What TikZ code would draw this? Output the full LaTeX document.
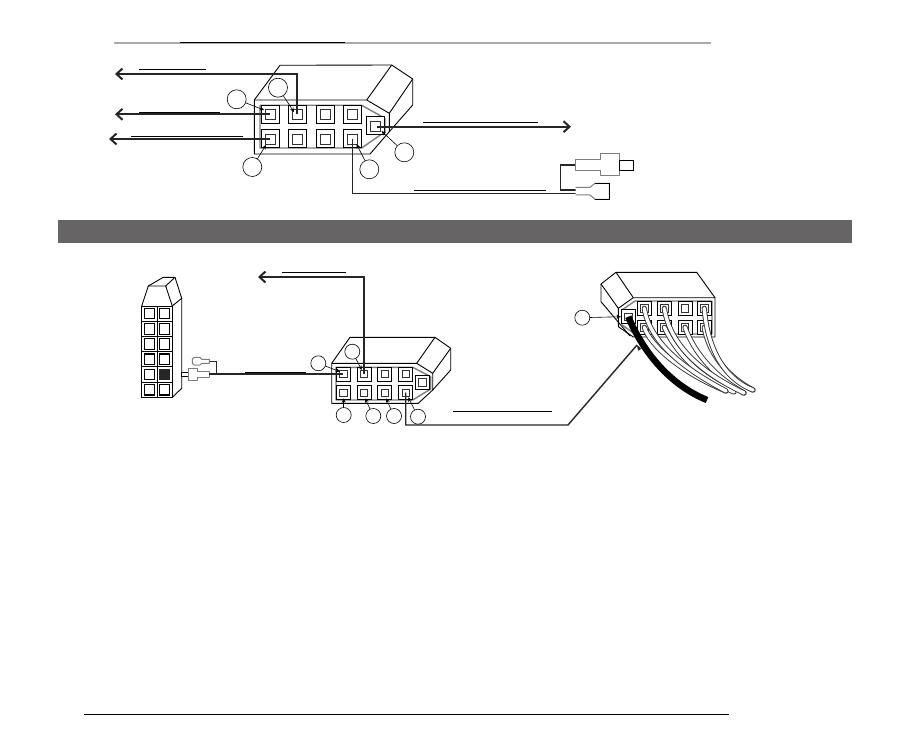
\documentclass[tikz,border=0pt]{standalone}
\usetikzlibrary{arrows.meta, positioning}
\definecolor{band}{RGB}{102,100,100}
\definecolor{rulegray}{RGB}{170,170,170}
\definecolor{pingray}{RGB}{125,125,125}
\tikzset{
  pinbig/.style={draw=black, line width=1pt, fill=white, minimum size=18pt, inner sep=0pt},
  pinsmall/.style={draw=black, line width=0.9pt, fill=white, minimum size=14pt, inner sep=0pt},
  coresmall/.style={draw=black!80, line width=0.8pt, fill=white, minimum size=7.5pt, inner sep=0pt},
  shell/.style={draw=black, line width=0.9pt, line join=round},
  frame/.style={draw=pingray, line width=1.4pt, line join=round},
  callout/.style={circle, draw=black, line width=0.6pt, fill=white, inner sep=0pt},
  calloutbig/.style={callout, minimum size=19pt},
  calloutmid/.style={callout, minimum size=15pt},
  leader/.style={draw=black, line width=0.6pt, -{Stealth[length=4.5pt,width=4pt]}},
  wire/.style={draw=black!85, line width=1.7pt},
  wirearrow/.style={wire, -{Straight Barb[length=6pt,width=11pt,line width=2pt]}},
  textbar/.style={draw=black, line width=0.9pt},
  cable/.style={line width=0.9pt, draw=black!80, double=white, double distance=3.4pt, line cap=round},
  plug/.style={draw=pingray, line width=1pt, fill=white, line join=round},
}
\begin{document}
\begin{tikzpicture}[x=1pt, y=-1pt]
  \path[use as bounding box, fill=white] (0,0) rectangle (907,754);

  % rules and band
  \draw[rulegray, line width=1.4pt] (114,43) -- (711,43);
  \draw[black, line width=1pt] (180,43) -- (345,43);
  \fill[band] (58,220) rectangle (852,243);
  \draw[black, line width=0.9pt] (84,714) -- (729,714);

  % upper connector
  \draw[shell] (254.3,100) -- (254.3,154) -- (370,154) -- (389.3,131.7) -- (389.3,113.3) -- (366.7,100) -- cycle;
  \draw[shell] (254.3,100) -- (280,65.3) -- (391.7,65) -- (412.7,79) -- (412.7,105) -- (389.3,131.7);
  \draw[shell] (366.7,100) -- (391.7,65);
  \draw[shell] (389.3,113.3) -- (412.7,79);
  \draw[frame] (260,105.3) -- (361.7,105.3) -- (385,118.3) -- (385,131.7) -- (361.7,148) -- (260,148) -- cycle;
  \foreach \px/\pn in {270/1, 297/2, 325/3, 352.7/4} {
    \node[pinbig] (ta\pn) at (\px,114.3) {};
    \node[coresmall, minimum size=10pt] (tca\pn) at (\px,114.3) {};
    \node[pinbig] (tb\pn) at (\px,139) {};
    \node[coresmall, minimum size=10pt] (tcb\pn) at (\px,139) {};
  }
  \node[pinbig] (tx) at (375,126) {};
  \node[coresmall, minimum size=10pt] (tcx) at (375,126) {};

  % upper wires
  \coordinate (tl1) at (115,74);
  \coordinate (tl2) at (115,114.3);
  \coordinate (tl3) at (109,139);
  \coordinate (tr1) at (571,126.7);
  \coordinate (tq1) at (575.7,193.3);
  \draw[wirearrow] (ta2.center) |- (tl1);
  \draw[wirearrow] (ta1.center) -- (tl2);
  \draw[wirearrow] (tb1.center) -- (tl3);
  \draw[wirearrow] (tx.center) ++(1.7,0.7) -- (tr1);
  \draw[wire, line width=1.4pt] (tb4.center) |- (tq1);

  % upper text bars
  \draw[textbar] (139,69.5) -- (206,69.5);
  \draw[textbar] (139,112) -- (220,112);
  \draw[textbar] (131,136.7) -- (243,136.7);
  \draw[textbar] (423,122.3) -- (538,122.3);
  \draw[textbar] (414,190) -- (546,190);

  % upper callouts
  \node[calloutbig] (tn1) at (236.7,99.3) {};
  \node[calloutbig] (tn2) at (278,87.7) {};
  \node[calloutbig] (tn3) at (252.3,167) {};
  \node[calloutbig] (tn4) at (369.3,169.3) {};
  \node[calloutbig] (tn5) at (404.3,152.3) {};
  \draw[leader] (tn1) -- (264,110);
  \draw[leader] (tn2) -- (294,112);
  \draw[leader] (tn3) -- (266,145);
  \draw[leader] (tn4) -- (356.5,144);
  \draw[leader] (tn5) -- (381.5,131);

  % plugs on the right
  \draw[wire, line width=1.4pt] (575.7,165) -- (560.3,165) -- (560.3,190) -- (575.7,190);
  \draw[plug] (575.7,159.3) -- (600.7,159.3) -- (600.7,153.3) -- (619,153.3) -- (619,176) -- (600.7,176) -- (600.7,171) -- (575.7,171) -- cycle;
  \draw[draw=black, line width=0.9pt, fill=white] (619,160.7) rectangle (633.3,170.3);
  \draw[plug] (575.7,187.3) -- (590,187.3) -- (595,183.3) -- (609.3,183.3) -- (609.3,199.3) -- (595,199.3) -- (590,195) -- (575.7,195);
  \draw[black, line width=0.9pt] (595,183.3) -- (609.3,183.3) -- (609.3,199.3) -- (595,199.3);

  % tall block on the left
  \foreach \cx/\cn in {141.7/1, 157/2} {
    \foreach \cy/\rn in {306/1, 321.2/2, 336.4/3, 351.7/4, 366.9/5, 382.1/6} {
      \draw[draw=black, line width=1pt, fill=white] (\cx,\cy) rectangle ++(15.3,15.2);
      \draw[draw=black, line width=1.1pt, fill=white] (\cx+2.4,\cy+2.3) rectangle ++(10.5,10.6);
    }
  }
  \fill[black!85] (159.4,369.2) rectangle ++(10.5,10.6);
  \draw[shell] (141.7,306) -- (148.3,286) -- (165.7,286) -- (172.3,306);
  \draw[shell] (148.3,286) -- (163.3,277.3) -- (175,277.3) -- (165.7,286);
  \draw[shell] (175,277.3) -- (181.7,298.3) -- (181.7,388.3) -- (172.3,397.3);
  \draw[shell] (172.3,306) -- (181.7,298.3);

  % plugs beside the block
  \coordinate (pj) at (216.7,374);
  \draw[wire, line width=1pt] (209.3,361.7) -- (216.7,361.7) -- (pj);
  \draw[draw=black, line width=0.7pt, fill=white] (181.7,372.3) rectangle (188.3,376.7);
  \draw[plug] (188.3,368.3) -- (197.3,368.3) -- (197.3,371.7) -- (209.3,371.7) -- (209.3,377.3) -- (197.3,377.3) -- (197.3,380) -- (188.3,380) -- cycle;
  \draw[plug] (192.3,359) -- (194.3,357.3) -- (200,357.3) -- (201.7,359.3) -- (209.3,359.3) -- (209.3,363.3) -- (201.7,363.3) -- (200,365) -- (194.3,365) -- (192.3,363.3) -- cycle;

  % middle connector
  \draw[shell] (331.7,363.3) -- (331.7,403.3) -- (418.3,403.3) -- (432.7,390) -- (432.7,373.3) -- (416.7,363.3) -- cycle;
  \draw[shell] (331.7,363.3) -- (350,337.3) -- (435,337.3) -- (450.7,348.3) -- (450.7,370) -- (432.7,390);
  \draw[shell] (416.7,363.3) -- (435,337.3);
  \draw[shell] (432.7,373.3) -- (450.7,348.3);
  \draw[frame] (336,367.3) -- (412.7,367.3) -- (430.7,376.7) -- (430.7,389) -- (412.7,400) -- (336,400) -- cycle;
  \foreach \px/\pn in {343.3/1, 364/2, 384.7/3, 405.7/4} {
    \node[pinsmall] (ma\pn) at (\px,374) {};
    \node[coresmall] (mca\pn) at (\px,374) {};
    \node[pinsmall] (mb\pn) at (\px,392.7) {};
    \node[coresmall] (mcb\pn) at (\px,392.7) {};
  }
  \node[pinsmall] (mx) at (422.3,382.3) {};
  \node[coresmall] (mcx) at (422.3,382.3) {};

  % middle wires
  \coordinate (ml1) at (258,277);
  \coordinate (mq1) at (568,425);
  \coordinate (mq2) at (637,345);
  \draw[wirearrow] (ma2.center) |- (ml1);
  \draw[wire, line width=1.2pt] (209.3,374) -- (ma1.center);
  \draw[wire, line width=1.4pt] (mb4.center) |- (mq1) -- (mq2);

  % middle text bars
  \draw[textbar] (282,272) -- (346,272);
  \draw[textbar] (245,372.3) -- (305.7,372.3);
  \draw[textbar] (453,411) -- (552,411);

  % middle callouts
  \node[calloutmid] (mn1) at (318.3,363.3) {};
  \node[calloutmid] (mn2) at (352.3,351.7) {};
  \node[calloutmid] (mn3) at (343.7,415) {};
  \node[calloutmid] (mn4) at (373.3,416) {};
  \node[calloutmid] (mn5) at (394,416) {};
  \node[calloutmid] (mn6) at (418,416.7) {};
  \draw[leader] (mn1) -- (340,371.7);
  \draw[leader] (mn2) -- (361.7,370);
  \draw[leader] (mn3) -- (343.7,398.3);
  \draw[leader] (mn4) -- (365,398.3);
  \draw[leader] (mn5) -- (386,398.3);
  \draw[leader] (mn6) -- (408.3,397.3);

  % right connector
  \draw[shell] (618.3,308.3) -- (633.3,297.7) -- (715,297.7) -- (715,337) -- (633.3,337) -- (618.3,326.7) -- cycle;
  \draw[shell] (633.3,297.7) -- (616,272.3) -- (696.7,272.3) -- (715,297.7);
  \draw[shell] (616,272.3) -- (601,284) -- (601,301.7) -- (630,336);
  \draw[shell] (601,284) -- (618.3,308.3);
  \draw[frame] (622,310) -- (635,301) -- (712,301) -- (712,334) -- (635,334) -- (622,325) -- cycle;
  \foreach \px/\pn in {644.3/1, 664.3/2, 685/3, 704.3/4} {
    \node[pinsmall] (ra\pn) at (\px,308.3) {};
    \node[coresmall] (rca\pn) at (\px,308.3) {};
    \node[pinsmall] (rb\pn) at (\px,327.3) {};
    \node[coresmall] (rcb\pn) at (\px,327.3) {};
  }
  \node[pinsmall] (rx) at (628.3,316.7) {};
  \node[coresmall] (rcx) at (628.3,316.7) {};

  % cables
  \draw[cable] (rb1.center) .. controls (650,345) and (680,372) .. (726,391);
  \draw[cable] (rb2.center) .. controls (675,350) and (695,375) .. (734,392);
  \draw[cable] (ra1.center) .. controls (650,345) and (690,372) .. (726,391);
  \draw[cable] (rb3.center) .. controls (693,350) and (712,375) .. (744,393);
  \draw[cable] (ra2.center) .. controls (670,345) and (700,372) .. (744,393);
  \draw[cable] (rb4.center) .. controls (708,350) and (724,375) .. (753,390);
  \draw[cable] (ra4.center) .. controls (707,345) and (722,378) .. (753,390);
  \draw[black, line width=6.5pt] (rx.center) .. controls (643,352) and (670,385) .. (707,400);
  \draw[wire, -{Stealth[length=6pt]}, line width=1.2pt] (mq2) ++(3,5) -- (mq2);

  % right callout
  \node[calloutmid] (rn1) at (582.3,317.7) {};
  \draw[leader] (rn1) -- (rx.west);
\end{tikzpicture}
\end{document}
